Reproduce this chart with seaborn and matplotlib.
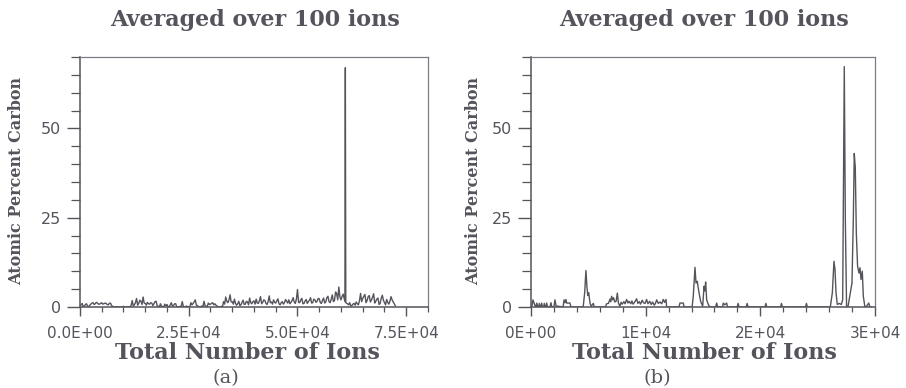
import matplotlib
matplotlib.use("Agg")
import matplotlib.pyplot as plt
from matplotlib.ticker import MultipleLocator
import seaborn as sns

# ---------------------------------------------------------------- data
# (a) carbon profile, 100-ion running average, sampled every 250 ions
# (finer sampling around the large carbon spike near 6.1E+04)
ions_a = (list(range(0, 60501, 250)) + [60900, 61000, 61100]
          + list(range(61500, 72501, 250)))
carbon_a = [
    0.3, 0.6, 1.0, 0.1, 0.2, 0.7, 0.9, 0.2, 0.1, 0.5,
    0.8, 1.1, 1.2, 0.7, 0.9, 1.3, 1.1, 0.8, 0.8, 1.0,
    1.2, 0.8, 0.9, 1.1, 1.0, 0.7, 0.6, 1.0, 1.1, 0.4,
    0.2, 0.0, 0.0, 0.0, 0.1, 0.0, 0.0, 0.0, 0.0, 0.0,
    0.2, 0.0, 0.0, 0.0, 0.1, 0.0, 0.0, 0.4, 1.8, 0.3,
    0.6, 1.2, 2.4, 0.5, 1.0, 1.9, 1.6, 0.7, 2.8, 1.1,
    1.0, 0.5, 1.3, 0.9, 0.8, 1.2, 1.1, 0.4, 0.9, 1.5,
    1.6, 0.3, 0.2, 0.0, 0.9, 0.2, 0.1, 0.0, 0.8, 0.3,
    0.7, 0.0, 0.1, 0.6, 1.2, 0.2, 0.4, 0.9, 0.9, 0.0,
    0.0, 0.0, 0.2, 0.1, 1.5, 0.2, 0.0, 0.0, 0.3, 0.0,
    0.1, 0.0, 1.2, 0.6, 1.0, 1.4, 2.0, 0.5, 0.4, 0.0,
    0.0, 0.0, 0.3, 0.0, 1.6, 0.4, 0.2, 0.1, 1.1, 0.7,
    0.8, 1.0, 1.2, 0.6, 0.9, 0.5, 0.3, 0.0, 0.0, 0.0,
    0.2, 0.0, 1.5, 0.8, 2.8, 1.6, 1.2, 2.0, 3.4, 1.4,
    1.5, 0.8, 2.2, 1.0, 0.5, 0.9, 1.6, 0.4, 0.6, 1.3,
    1.9, 0.7, 0.8, 1.6, 1.4, 0.6, 2.5, 1.2, 0.9, 1.5,
    1.7, 0.8, 2.2, 1.1, 1.0, 1.8, 2.9, 0.9, 1.3, 2.0,
    1.8, 1.0, 0.7, 1.5, 3.1, 1.2, 1.4, 0.8, 2.0, 1.3,
    1.1, 1.7, 2.3, 0.9, 0.6, 1.2, 1.5, 0.8, 1.2, 2.1,
    1.6, 1.1, 2.0, 0.9, 1.3, 1.8, 2.6, 1.4, 1.0, 2.2,
    4.9, 1.3, 1.2, 2.0, 2.4, 0.9, 1.0, 1.7, 2.1, 1.0,
    1.5, 1.9, 2.6, 1.1, 1.2, 2.2, 2.0, 1.3, 1.6, 2.4,
    2.3, 1.2, 1.0, 1.9, 2.5, 1.1, 1.4, 2.6, 3.0, 1.5,
    1.2, 2.2, 3.4, 1.5, 1.8, 4.2, 3.7, 2.0, 5.6, 2.8,
    2.0, 3.0, 3.6,
    1.5, 67.0, 1.2,
    0.9, 0.6, 1.2, 0.3, 0.4, 0.8, 1.0, 0.5, 1.4, 0.9,
    0.6, 1.8, 3.8, 1.5, 2.4, 3.0, 3.5, 1.2, 1.8, 2.9,
    3.2, 1.4, 2.0, 2.7, 3.7, 1.1, 1.6, 2.2, 2.5, 0.7,
    1.0, 2.4, 3.3, 1.9, 1.2, 0.6, 2.1, 1.3, 0.8, 1.6,
    2.9, 2.0, 1.4, 0.9, 0.3,
]

# (b) carbon profile, 100-ion running average
ions_b = [
    0, 100, 170, 260, 350, 420, 500, 580, 650, 730,
    800, 870, 930, 1000, 1100, 1160, 1230, 1300, 1370, 1440,
    1650, 1740, 1820, 2000, 2090, 2180, 2800, 2880, 2970, 3050,
    3110, 3400, 3480, 4550, 4680, 4790, 4880, 4950, 5030, 5150,
    5250, 5430, 5520, 6500, 6590, 6750, 6890, 6950, 7030, 7120,
    7200, 7300, 7420, 7530, 7620, 7750, 7860, 7950, 8100, 8200,
    8340, 8450, 8550, 8700, 8800, 8900, 9050, 9210, 9320, 9450,
    9550, 9700, 9800, 9950, 10080, 10200, 10350, 10480, 10600, 10750,
    10850, 10960, 11100, 11250, 11400, 11530, 11650, 11770, 11830, 12900,
    12990, 13280, 13350, 14050, 14150, 14230, 14300, 14390, 14500, 14620,
    14790, 14970, 15090, 15160, 15230, 15320, 15460, 15600, 16100, 16190,
    16280, 16700, 16770, 16900, 17060, 17150, 17980, 18060, 18140, 18770,
    18850, 18930, 20400, 20480, 20560, 21760, 21840, 21920, 23940, 24020,
    24100, 26100, 26280, 26420, 26510, 26600, 26710, 26880, 27060, 27180,
    27320, 27410, 27520, 27640, 27990, 28110, 28190, 28280, 28370, 28480,
    28600, 28690, 28780, 28890, 28980, 29120, 29270, 29450, 29560, 29700,
]
carbon_b = [
    0.0, 0.5, 2.0, 1.2, 0.3, 0.0, 1.1, 0.0, 0.0, 1.0,
    0.0, 0.0, 1.1, 0.0, 0.0, 1.0, 0.0, 0.0, 1.1, 0.0,
    0.0, 1.2, 0.0, 0.0, 2.0, 0.3, 0.0, 2.0, 1.2, 2.1,
    1.1, 1.1, 0.0, 0.0, 4.0, 10.2, 5.5, 3.2, 4.0, 1.0,
    0.2, 1.0, 0.0, 0.0, 0.9, 1.0, 2.2, 1.5, 3.0, 2.0,
    2.6, 1.4, 1.6, 3.9, 1.2, 0.2, 1.3, 0.8, 1.5, 0.9,
    2.1, 1.1, 1.6, 0.9, 1.7, 0.8, 1.4, 2.3, 1.0, 1.5,
    0.8, 1.9, 1.2, 1.0, 2.1, 0.9, 1.6, 0.7, 1.4, 0.5,
    1.0, 2.0, 1.0, 1.4, 0.9, 2.1, 1.3, 2.1, 0.0, 0.0,
    1.1, 1.1, 0.0, 0.0, 3.0, 7.5, 11.1, 6.7, 7.2, 4.6,
    1.6, 0.2, 5.8, 4.5, 7.0, 2.0, 0.7, 0.0, 0.0, 1.1,
    0.0, 0.0, 1.1, 0.6, 1.1, 0.0, 0.0, 1.0, 0.0, 0.0,
    1.0, 0.0, 0.0, 1.0, 0.0, 0.0, 1.0, 0.0, 0.0, 1.0,
    0.0, 0.0, 4.0, 12.8, 10.5, 4.0, 0.7, 1.0, 0.7, 2.0,
    67.3, 25.0, 0.0, 0.0, 6.7, 25.0, 43.0, 39.0, 20.7, 11.4,
    9.5, 11.0, 7.7, 10.0, 3.0, 0.0, 0.2, 1.1, 0.0, 0.0,
]

xticks_a = [0, 25000, 50000, 75000]
xticklabels_a = ["0.0E+00", "2.5E+04", "5.0E+04", "7.5E+04"]
xticks_b = [0, 10000, 20000, 30000]
xticklabels_b = ["0E+00", "1E+04", "2E+04", "3E+04"]
yticks = [0, 25, 50]
yticklabels = ["0", "25", "50"]

title_text = "Averaged over 100 ions"
xlabel_text = "Total Number of Ions"
ylabel_text = "Atomic Percent Carbon"

# ---------------------------------------------------------------- style
sns.set_theme(style="ticks")
plt.rcParams["font.family"] = ["DejaVu Sans"]

INK = "#55535b"
FRAME = "#7d7b83"
SERIF_BOLD = dict(fontfamily="DejaVu Serif", fontweight="bold", color=INK)

fig = plt.figure(figsize=(9.06, 3.88), dpi=100)
fig.patch.set_facecolor("white")
ax_a = fig.add_axes([0.0883, 0.2088, 0.3841, 0.6443])
ax_b = fig.add_axes([0.5861, 0.2088, 0.3797, 0.6443])

panels = [
    (ax_a, ions_a, carbon_a, (0, 80000), xticks_a, xticklabels_a, 5000,
     -0.181, 0.48, 0.2815, 0.42, "(a)"),
    (ax_b, ions_b, carbon_b, (0, 30000), xticks_b, xticklabels_b, 2000,
     -0.166, 0.505, 0.777, 0.366, "(b)"),
]

for (ax, xs, ys, xlim, xt, xtl, xminor, ylab_x, xlab_x, title_x, tag_x,
     tag) in panels:
    sns.lineplot(x=xs, y=ys, ax=ax, color=INK, linewidth=1.0,
                 estimator=None, sort=False)
    ax.set_facecolor("white")
    ax.set_xlim(*xlim)
    ax.set_ylim(0, 70)

    ax.set_xticks(xt, labels=xtl)
    ax.xaxis.set_minor_locator(MultipleLocator(xminor))
    ax.set_yticks(yticks, labels=yticklabels)
    ax.yaxis.set_minor_locator(MultipleLocator(5))

    ax.tick_params(axis="x", which="major", direction="out", length=6.5,
                   width=1.0, color=INK, pad=7, labelsize=11,
                   labelcolor=INK)
    ax.tick_params(axis="x", which="minor", direction="out", length=3.5,
                   width=0.9, color=INK)
    ax.tick_params(axis="y", which="major", direction="out", length=9.5,
                   width=1.0, color=INK, pad=4, labelsize=11.5,
                   labelcolor=INK)
    ax.tick_params(axis="y", which="minor", direction="out", length=6.5,
                   width=0.9, color=INK)

    for side in ("left", "bottom"):
        ax.spines[side].set_color(INK)
        ax.spines[side].set_linewidth(1.1)
    for side in ("top", "right"):
        ax.spines[side].set_color(FRAME)
        ax.spines[side].set_linewidth(0.9)

    fig.text(title_x, 0.9485, title_text, ha="center", va="center",
             fontsize=16, **SERIF_BOLD)
    ax.set_xlabel(xlabel_text, fontsize=16, **SERIF_BOLD)
    ax.xaxis.set_label_coords(xlab_x, -0.184)
    ax.xaxis.label.set_verticalalignment("center")
    ax.set_ylabel(ylabel_text, fontsize=11.5, **SERIF_BOLD)
    ax.yaxis.set_label_coords(ylab_x, 0.504)
    ax.yaxis.label.set_verticalalignment("center")
    ax.text(tag_x, -0.284, tag, transform=ax.transAxes, ha="center",
            va="center", fontfamily="DejaVu Serif", fontsize=14, color=INK)

fig.savefig("out.png", dpi=100, facecolor="white")
